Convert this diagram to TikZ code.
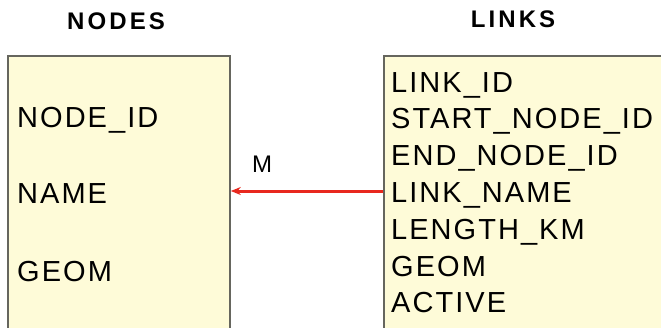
\documentclass[tikz,border=0pt]{standalone}
\usepackage{fontspec}
\setmainfont{Liberation Sans}
\newfontfamily\bodyfont[LetterSpace=7]{Liberation Sans}
\newfontfamily\titlefont[LetterSpace=13]{Liberation Sans}
\usetikzlibrary{arrows.meta}
\definecolor{boxfill}{HTML}{FEFBD8}
\definecolor{boxline}{HTML}{66665E}
\definecolor{arrred}{HTML}{E8281E}
\tikzset{
  tablebox/.style={draw=boxline, line width=1.8pt, fill=boxfill, anchor=north west, inner sep=0pt},
  field/.style={anchor=base west, inner sep=0pt, font=\bodyfont\fontsize{29}{29}\selectfont},
  title/.style={anchor=base, inner sep=0pt, font=\titlefont\bfseries\fontsize{24}{24}\selectfont},
  lbl/.style={anchor=base, inner sep=0pt, font=\fontsize{24}{24}\selectfont},
  rel/.style={draw=arrred, line width=3pt, -{Stealth[length=10pt,width=8pt]}}
}
\begin{document}
\begin{tikzpicture}[x=1pt,y=-1pt]
\useasboundingbox (0,0) rectangle (661,327);
\node[tablebox, minimum width=222pt, minimum height=300pt] (nodes) at (7,55) {};
\node[tablebox, minimum width=320pt, minimum height=300pt] (links) at (383,55) {};
\node[title] (tnodes) at (116,29.5) {NODES};
\node[title] (tlinks) at (513,27.5) {LINKS};
\node[field] (nid) at (17,127) {NODE\_ID};
\node[field] (nname) at (17,203) {NAME};
\node[field] (ngeom) at (17,281) {GEOM};
\node[field] (lid) at (391,92) {LINK\_ID};
\node[field] (lstart) at (391,128.8) {START\_NODE\_ID};
\node[field] (lend) at (391,165.6) {END\_NODE\_ID};
\node[field] (lname) at (391,202.4) {LINK\_NAME};
\node[field] (llen) at (391,239.2) {LENGTH\_KM};
\node[field] (lgeom) at (391,276) {GEOM};
\node[field] (lact) at (391,312.8) {ACTIVE};
\node[lbl] (m) at (262,172) {M};
\coordinate (astart) at (links.west |- 0,191);
\coordinate (aend) at (nodes.east |- 0,191);
\draw[rel] (astart) -- (aend);
\end{tikzpicture}
\end{document}
